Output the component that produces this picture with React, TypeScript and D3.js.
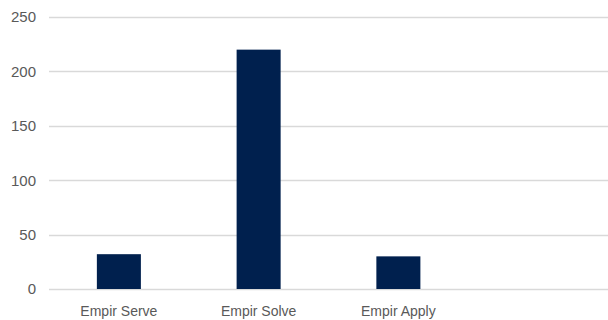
import React from "react";
import * as d3 from "d3";

const categories = ["Empir Serve", "Empir Solve", "Empir Apply", ""];
const values = [32, 220, 30, null];
const yTicks = [0, 50, 100, 150, 200, 250];

const W = 608;
const H = 320;
const margin = { top: 17, right: 0, bottom: 31, left: 49 };

export default function App() {
  const x = d3
    .scaleBand<string>()
    .domain(categories.map((c, i) => `${i}`))
    .range([margin.left, W - margin.right]);
  const y = d3
    .scaleLinear()
    .domain([0, 250])
    .range([H - margin.bottom, margin.top]);
  const barW = x.bandwidth() * 0.315;

  return (
    <svg
      width={W}
      height={H}
      style={{ position: "absolute", left: 0, top: 0, background: "#fff" }}
      fontFamily="'Liberation Sans', Arial, sans-serif"
    >
      {yTicks.map((t) => (
        <g key={t}>
          <line
            x1={margin.left}
            x2={W}
            y1={Math.round(y(t)) + 0.5}
            y2={Math.round(y(t)) + 0.5}
            stroke="#d9d9d9"
            strokeWidth={1.5}
          />
          <text
            x={36}
            y={y(t)}
            dy="0.36em"
            textAnchor="end"
            fontSize={15}
            fill="#595959"
          >
            {t}
          </text>
        </g>
      ))}
      {values.map((v, i) =>
        v == null ? null : (
          <rect
            key={i}
            x={(x(`${i}`) as number) + x.bandwidth() / 2 - barW / 2}
            y={y(v)}
            width={barW}
            height={y(0) - y(v)}
            fill="#00204e"
          />
        )
      )}
      {categories.map((c, i) => (
        <text
          key={i}
          x={(x(`${i}`) as number) + x.bandwidth() / 2}
          y={316}
          textAnchor="middle"
          fontSize={14}
          fill="#595959"
        >
          {c}
        </text>
      ))}
    </svg>
  );
}
